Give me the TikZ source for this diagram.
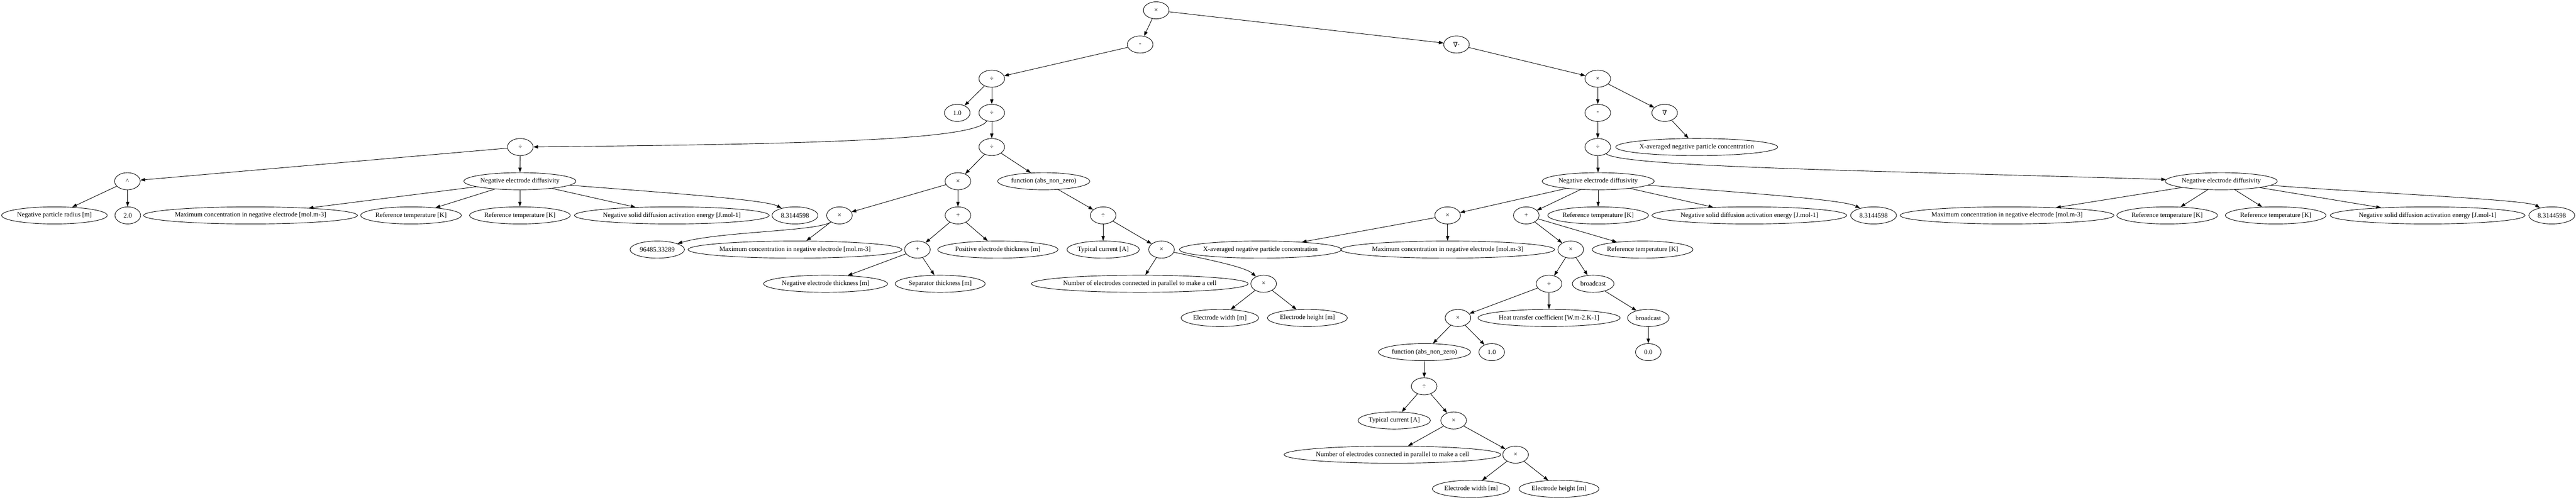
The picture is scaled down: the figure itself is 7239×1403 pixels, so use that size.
\documentclass[tikz,border=0pt]{standalone}
\usepackage{fontspec}
\setmainfont{Liberation Serif}
\newfontfamily\symfont{DejaVu Serif}
\usetikzlibrary{shapes.geometric,arrows.meta}
\begin{document}
\begin{tikzpicture}[x=0.75pt,y=-0.75pt,
  el/.style={draw,ellipse,line width=1pt,inner sep=0pt,minimum height=36pt,minimum width=54pt,font=\fontsize{14pt}{16pt}\selectfont},
  wd/.style={minimum width=#1*0.75pt},
  edge/.style={line width=1pt,-{Triangle[length=10pt,width=7pt]}}]
\useasboundingbox (0,0) rectangle (7239,1403);
% level 0-4
\node[el] (n0) at (3249,29) {×};
\node[el] (n1) at (3204,125) {-};
\node[el] (n2) at (4093,125) {{\symfont ∇·}};
\node[el] (n3) at (2787,221) {÷};
\node[el] (n4) at (4490,221) {×};
\node[el] (n5) at (2690,317) {1.0};
\node[el] (n6) at (2787,317) {÷};
\node[el] (n7) at (4490,317) {-};
\node[el] (n8) at (4678,317) {{\symfont ∇}};
\node[el] (n9) at (1462,413) {÷};
\node[el] (n10) at (2787,413) {÷};
\node[el] (n11) at (4490,413) {÷};
\node[el,wd=436] (n12) at (4768,413) {X-averaged negative particle concentration};
% left subtree
\node[el] (n13) at (358,509) {\textasciicircum};
\node[el,wd=310] (n14) at (1461,509) {Negative electrode diffusivity};
\node[el,wd=295] (n15) at (153,605) {Negative particle radius [m]};
\node[el] (n16) at (359,605) {2.0};
\node[el,wd=570] (n17) at (704,605) {Maximum concentration in negative electrode [mol.m-3]};
\node[el,wd=281] (n18) at (1155,605) {Reference temperature [K]};
\node[el,wd=281] (n19) at (1461,605) {Reference temperature [K]};
\node[el,wd=519] (n20) at (1888,605) {Negative solid diffusion activation energy [J.mol-1]};
\node[el,wd=129] (n21) at (2234,605) {8.3144598};
\node[el] (n22) at (2692,509) {×};
\node[el,wd=258] (n23) at (2933,509) {function (abs\_non\_zero)};
\node[el] (n24) at (2359,605) {×};
\node[el] (n25) at (2692,605) {+};
\node[el] (n26) at (3100,605) {÷};
\node[el,wd=153] (n27) at (1847,701) {96485.33289};
\node[el,wd=570] (n28) at (2234,701) {Maximum concentration in negative electrode [mol.m-3]};
\node[el] (n29) at (2578,701) {+};
\node[el,wd=331] (n30) at (2804,701) {Positive electrode thickness [m]};
\node[el,wd=195] (n31) at (3100,701) {Typical current [A]};
\node[el] (n32) at (3264,701) {×};
\node[el,wd=342] (n33) at (2320,797) {Negative electrode thickness [m]};
\node[el,wd=253] (n34) at (2642,797) {Separator thickness [m]};
\node[el,wd=577] (n35) at (3203,797) {Number of electrodes connected in parallel to make a cell};
\node[el] (n36) at (3551,797) {×};
\node[el,wd=218] (n37) at (3428,893) {Electrode width [m]};
\node[el,wd=225] (n38) at (3674,893) {Electrode height [m]};
% right subtree
\node[el,wd=310] (n39) at (4491,509) {Negative electrode diffusivity};
\node[el,wd=310] (n40) at (6242,509) {Negative electrode diffusivity};
\node[el] (n41) at (4068,605) {×};
\node[el] (n42) at (4289,605) {+};
\node[el,wd=281] (n43) at (4491,605) {Reference temperature [K]};
\node[el,wd=519] (n44) at (4916,605) {Negative solid diffusion activation energy [J.mol-1]};
\node[el,wd=129] (n45) at (5265,605) {8.3144598};
\node[el,wd=436] (n46) at (3542,701) {X-averaged negative particle concentration};
\node[el,wd=570] (n47) at (4068,701) {Maximum concentration in negative electrode [mol.m-3]};
\node[el] (n48) at (4414,701) {×};
\node[el,wd=281] (n49) at (4616,701) {Reference temperature [K]};
\node[el] (n50) at (4353,797) {÷};
\node[el,wd=117] (n51) at (4477,797) {broadcast};
\node[el] (n52) at (4097,893) {×};
\node[el,wd=390] (n53) at (4353,893) {Heat transfer coefficient [W.m-2.K-1]};
\node[el,wd=117] (n54) at (4632,893) {broadcast};
\node[el,wd=258] (n55) at (4003,989) {function (abs\_non\_zero)};
\node[el] (n56) at (4192,989) {1.0};
\node[el] (n57) at (4632,989) {0.0};
\node[el] (n58) at (4002,1085) {÷};
\node[el,wd=195] (n59) at (3918,1181) {Typical current [A]};
\node[el] (n60) at (4085,1181) {×};
\node[el,wd=577] (n61) at (3913,1277) {Number of electrodes connected in parallel to make a cell};
\node[el] (n62) at (4259,1277) {×};
\node[el,wd=218] (n63) at (4134,1373) {Electrode width [m]};
\node[el,wd=225] (n64) at (4381,1373) {Electrode height [m]};
% far right
\node[el,wd=570] (n65) at (5640,605) {Maximum concentration in negative electrode [mol.m-3]};
\node[el,wd=281] (n66) at (6090,605) {Reference temperature [K]};
\node[el,wd=281] (n67) at (6395,605) {Reference temperature [K]};
\node[el,wd=519] (n68) at (6822,605) {Negative solid diffusion activation energy [J.mol-1]};
\node[el,wd=129] (n69) at (7171,605) {8.3144598};
% edges
\draw[edge] (n0) -- (n1);
\draw[edge] (n0) -- (n2);
\draw[edge] (n1) -- (n3);
\draw[edge] (n2) -- (n4);
\draw[edge] (n3) -- (n5);
\draw[edge] (n3) -- (n6);
\draw[edge] (n4) -- (n7);
\draw[edge] (n4) -- (n8);
\draw[edge] (n6) .. controls (2740,395) and (2250,405) .. (n9);
\draw[edge] (n6) -- (n10);
\draw[edge] (n7) -- (n11);
\draw[edge] (n8) -- (n12);
\draw[edge] (n9) -- (n13);
\draw[edge] (n9) -- (n14);
\draw[edge] (n13) -- (n15);
\draw[edge] (n13) -- (n16);
\draw[edge] (n14) -- (n17);
\draw[edge] (n14) -- (n18);
\draw[edge] (n14) -- (n19);
\draw[edge] (n14) -- (n20);
\draw[edge] (n14) .. controls (1850,540) and (2150,560) .. (n21);
\draw[edge] (n10) -- (n22);
\draw[edge] (n10) -- (n23);
\draw[edge] (n22) -- (n24);
\draw[edge] (n22) -- (n25);
\draw[edge] (n23) -- (n26);
\draw[edge] (n24) .. controls (2300,650) and (2020,650) .. (n27);
\draw[edge] (n24) -- (n28);
\draw[edge] (n25) -- (n29);
\draw[edge] (n25) -- (n30);
\draw[edge] (n26) -- (n31);
\draw[edge] (n26) -- (n32);
\draw[edge] (n29) -- (n33);
\draw[edge] (n29) -- (n34);
\draw[edge] (n32) -- (n35);
\draw[edge] (n32) .. controls (3400,730) and (3500,750) .. (n36);
\draw[edge] (n36) -- (n37);
\draw[edge] (n36) -- (n38);
\draw[edge] (n11) -- (n39);
\draw[edge] (n11) .. controls (4560,470) and (5300,480) .. (n40);
\draw[edge] (n39) -- (n41);
\draw[edge] (n39) -- (n42);
\draw[edge] (n39) -- (n43);
\draw[edge] (n39) -- (n44);
\draw[edge] (n39) .. controls (4880,540) and (5180,560) .. (n45);
\draw[edge] (n41) -- (n46);
\draw[edge] (n41) -- (n47);
\draw[edge] (n42) -- (n48);
\draw[edge] (n42) -- (n49);
\draw[edge] (n48) -- (n50);
\draw[edge] (n48) -- (n51);
\draw[edge] (n50) -- (n52);
\draw[edge] (n50) -- (n53);
\draw[edge] (n51) -- (n54);
\draw[edge] (n52) -- (n55);
\draw[edge] (n52) -- (n56);
\draw[edge] (n54) -- (n57);
\draw[edge] (n55) -- (n58);
\draw[edge] (n58) -- (n59);
\draw[edge] (n58) -- (n60);
\draw[edge] (n60) -- (n61);
\draw[edge] (n60) -- (n62);
\draw[edge] (n62) -- (n63);
\draw[edge] (n62) -- (n64);
\draw[edge] (n40) -- (n65);
\draw[edge] (n40) -- (n66);
\draw[edge] (n40) -- (n67);
\draw[edge] (n40) -- (n68);
\draw[edge] (n40) .. controls (6620,540) and (7100,560) .. (n69);
\end{tikzpicture}
\end{document}
